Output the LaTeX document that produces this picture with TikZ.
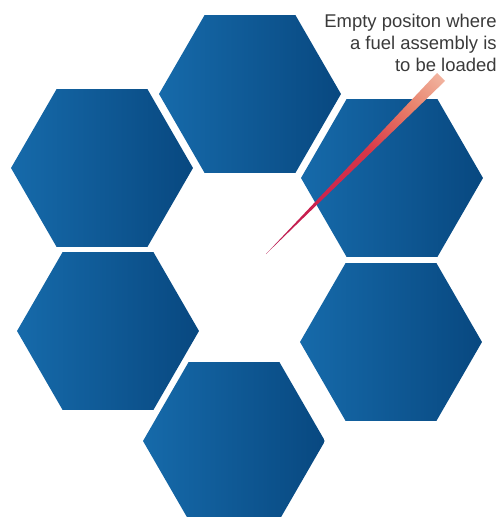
\documentclass[tikz,border=0pt]{standalone}
\usepackage{fontspec}
\setmainfont{Liberation Sans}
\usepackage{tikz}
\usetikzlibrary{shapes.geometric,calc}
\definecolor{hexlight}{RGB}{22,106,170}
\definecolor{hexdark}{RGB}{8,72,128}
\definecolor{wedgetip}{RGB}{170,36,96}
\definecolor{wedgecrimson}{RGB}{200,30,78}
\definecolor{wedgered}{RGB}{216,56,72}
\definecolor{wedgeorange}{RGB}{232,128,106}
\definecolor{wedgepale}{RGB}{244,196,176}
\definecolor{wedgewhite}{RGB}{251,232,224}
\definecolor{labelgray}{RGB}{58,58,58}
\pgfdeclareverticalshading{beamshade}{100bp}{color(0bp)=(wedgetip);
    color(30bp)=(wedgecrimson); color(55bp)=(wedgered); color(72bp)=(wedgeorange);
    color(88bp)=(wedgepale); color(100bp)=(wedgewhite)}
\tikzset{
    fuelhex/.style={regular polygon, regular polygon sides=6, minimum size=3.64cm,
        inner sep=0pt, left color=hexlight, right color=hexdark, draw=none},
    pointerwedge/.style={shading=beamshade, shading angle=-45},
    corelabel/.style={align=right, inner sep=0pt, text=labelgray,
        font=\fontsize{10.5}{12.5}\selectfont}
}

\begin{document}
\begin{tikzpicture}[x=0.02cm, y=-0.02cm]
    \useasboundingbox (0,0) rectangle (500,517);
    % ring of assemblies
    \node[fuelhex] (top) at (250,94) {};
    \node[fuelhex] (upleft) at (102,168) {};
    \node[fuelhex] (upright) at (392,178) {};
    \node[fuelhex] (lowleft) at (108,331) {};
    \node[fuelhex] (lowright) at (391,342) {};
    \node[fuelhex] (bottom) at (234,441) {};
    % empty position
    \coordinate (emptypos) at (266,254);
    \node[corelabel, anchor=north east] (note) at (497,14)
        {Empty positon where\\a fuel assembly is\\to be loaded};
    \coordinate (wedgeend) at (441,77);
    \shade[pointerwedge] (emptypos) -- ($(wedgeend)+(-4,-4)$) -- ($(wedgeend)+(4,4)$) -- cycle;
\end{tikzpicture}
\end{document}
